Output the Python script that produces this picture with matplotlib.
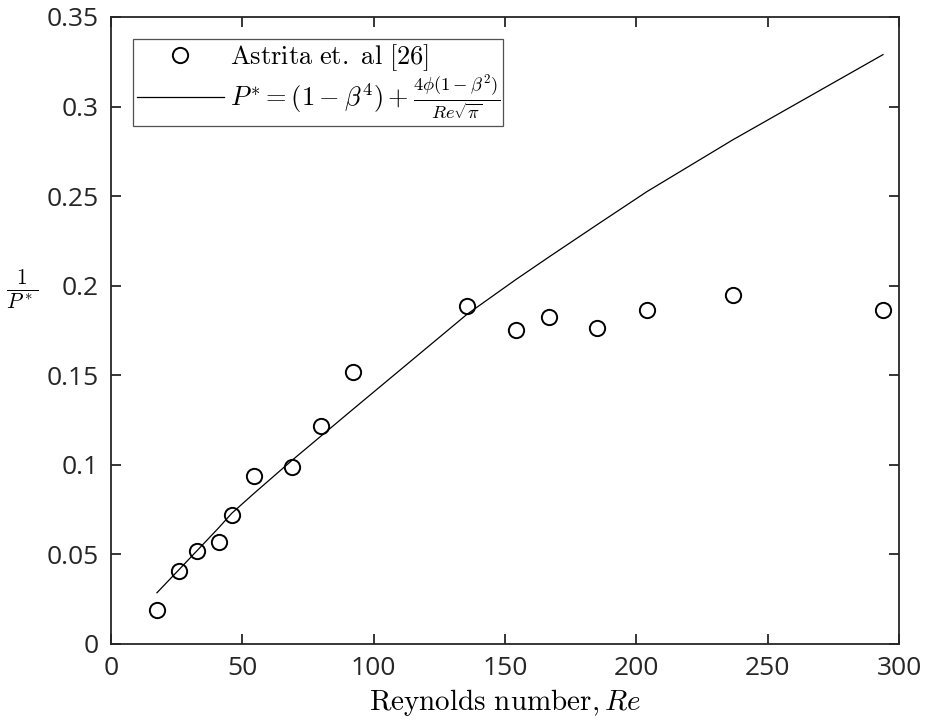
import numpy as np
import matplotlib
matplotlib.use('Agg')
from matplotlib import pyplot as plt

plt.rcParams['mathtext.fontset'] = 'cm'

# experimental data (Astrita et al.)
re_exp = [17.5, 25.9, 32.7, 41.1, 46.0, 54.4, 68.9, 79.9, 92.1,
          135.5, 154.2, 166.7, 185.0, 204.0, 236.8, 293.9]
inv_p_exp = [0.019, 0.0408, 0.052, 0.057, 0.072, 0.0938, 0.0988, 0.1217, 0.1519,
             0.1887, 0.1753, 0.1826, 0.1764, 0.1865, 0.1949, 0.1865]

# model curve at the same Re
inv_p_model = [0.0286, 0.0415, 0.052, 0.065, 0.073, 0.084, 0.1025, 0.116, 0.131,
               0.184, 0.2035, 0.216, 0.234, 0.2525, 0.2815, 0.329]

xticks = [0, 50, 100, 150, 200, 250, 300]
yticks = [0, 0.05, 0.1, 0.15, 0.2, 0.25, 0.3, 0.35]
ytick_labels = ['0', '0.05', '0.1', '0.15', '0.2', '0.25', '0.3', '0.35']

fig = plt.figure(figsize=(9.28, 7.23), dpi=100)
ax = fig.add_axes([0.1196, 0.1093, 0.8492, 0.8672])

ax.plot(re_exp, inv_p_exp, 'o', mfc='none', mec='k', ms=11, mew=1.4,
        label=r'$\mathrm{Astrita\ et.\ al\ [26]}$')
ax.plot(re_exp, inv_p_model, '-', color='k', lw=0.9,
        label=r'$P^{*}=(1-\beta^4)+\frac{4\phi(1-\beta^2)}{Re\sqrt{\pi}}$')

ax.set_xlim(0, 300)
ax.set_ylim(0, 0.35)
ax.set_xticks(xticks)
ax.set_yticks(yticks)
ax.set_yticklabels(ytick_labels)

c = '#262626'
for s in ax.spines.values():
    s.set_color(c)
    s.set_linewidth(1.3)
ax.tick_params(direction='in', length=7, width=1.3, colors=c, top=True, right=True,
               labelsize=19, pad=9)
for lab in ax.get_xticklabels() + ax.get_yticklabels():
    lab.set_family('Open Sans')

ax.set_xlabel(r'$\mathrm{Reynolds\ number,}Re$', fontsize=21, labelpad=4)
ax.set_ylabel(r'$\frac{1}{P^*}$', fontsize=22, rotation=0, va='center', ha='center')
ax.yaxis.set_label_coords(-0.113, 0.565)

leg = ax.legend(loc='upper left', fontsize=19, frameon=True, fancybox=False,
                edgecolor=c, borderaxespad=0.85, handlelength=3.3, handletextpad=0.25,
                borderpad=0.12, labelspacing=0.0)
leg.get_frame().set_linewidth(0.9)

fig.savefig('out.png', dpi=100)
